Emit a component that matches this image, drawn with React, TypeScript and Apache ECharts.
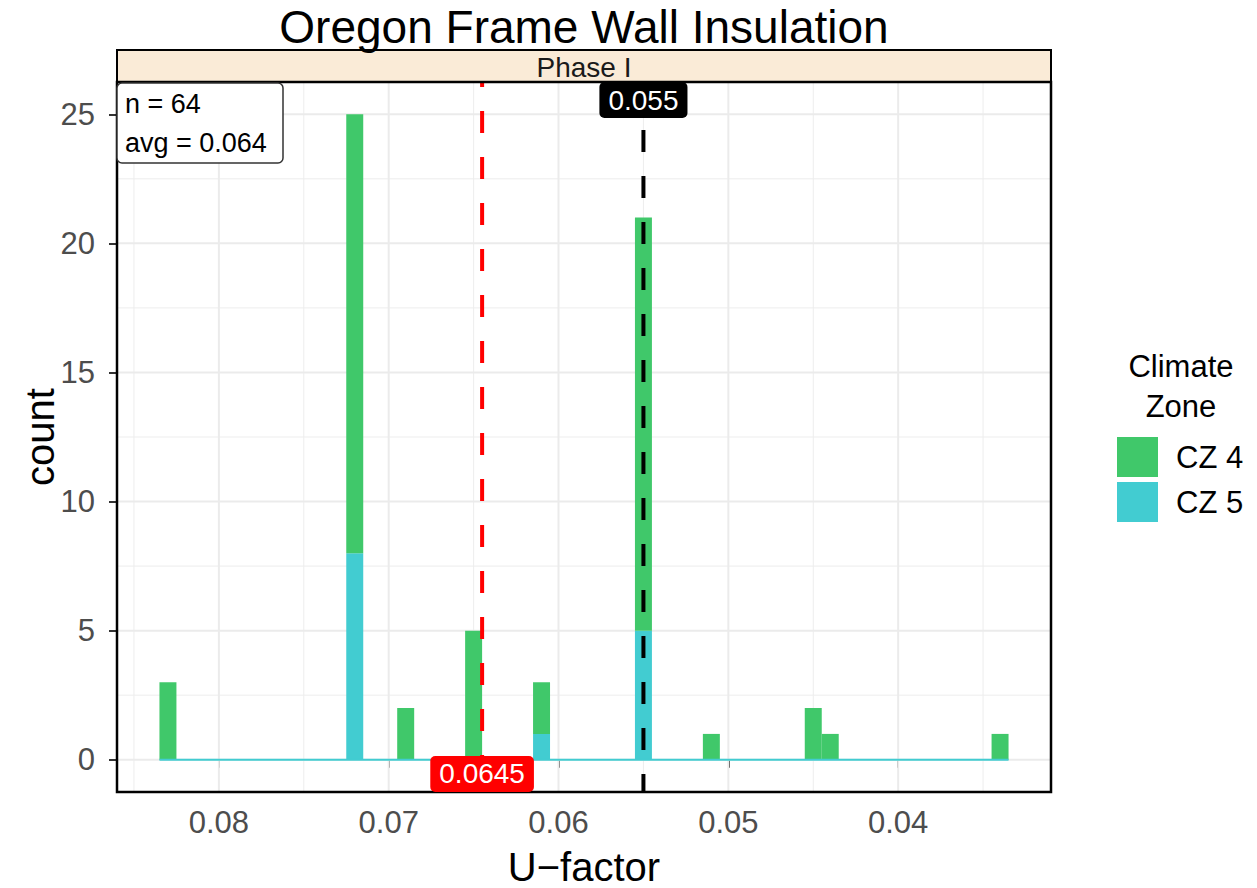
import React, { useEffect, useRef } from "react";
import * as echarts from "echarts";

// ---- data ----
const binCenters = [0.083, 0.072, 0.069, 0.065, 0.061, 0.055, 0.051, 0.045, 0.044, 0.034];
const cz4Counts = [3, 17, 2, 5, 2, 16, 1, 2, 1, 1];
const cz5Counts = [0, 8, 0, 0, 1, 5, 0, 0, 0, 0];
const binWidth = 0.001;
const zones = ["CZ 4", "CZ 5"];
const xTicks = [0.04, 0.05, 0.06, 0.07, 0.08];
const xMinor = [0.035, 0.045, 0.055, 0.065, 0.075, 0.085];
const yTicks = [0, 5, 10, 15, 20, 25];
const yMinor = [2.5, 7.5, 12.5, 17.5, 22.5];
const medianU = 0.0645;
const targetU = 0.055;
const nTotal = 64;
const avgU = 0.064;
const titleText = "Oregon Frame Wall Insulation";
const stripText = "Phase I";

// ---- styling ----
const FONT = "'Liberation Sans', Arial, Helvetica, sans-serif";
const GREEN = "#40C86A";
const TEAL = "#42CCD1";
const GRID_L = 117, GRID_T = 82, GRID_W = 934, GRID_H = 710;

const edgeMax = Math.max(...binCenters) + binWidth / 2;
const edgeMin = Math.min(...binCenters) - binWidth / 2;
const xRange = edgeMax - edgeMin;
const xMin = edgeMin - 0.05 * xRange;
const xMax = edgeMax + 0.05 * xRange;
const totals = binCenters.map((_, i) => cz4Counts[i] + cz5Counts[i]);
const yTop = Math.max(...totals);
const yMin = -0.05 * yTop;
const yMax = yTop * 1.05;

function makeRender(color: string) {
  return (params: any, api: any) => {
    const c = api.value(0);
    const lo = api.value(1);
    const hi = api.value(2);
    const a = api.coord([c - binWidth / 2, hi]);
    const b = api.coord([c + binWidth / 2, lo]);
    return {
      type: "rect",
      shape: {
        x: Math.min(a[0], b[0]),
        y: Math.min(a[1], b[1]),
        width: Math.abs(a[0] - b[0]),
        height: Math.abs(a[1] - b[1]),
      },
      style: { fill: color },
    };
  };
}

// gridline rows: [value on x, value on y, isVertical(1)/horizontal(0), width]
function gridRender(params: any, api: any) {
  const vx = api.value(0);
  const vy = api.value(1);
  const vertical = api.value(2) === 1;
  const w = api.value(3);
  const p1 = vertical ? api.coord([vx, yMin]) : api.coord([xMin, vy]);
  const p2 = vertical ? api.coord([vx, yMax]) : api.coord([xMax, vy]);
  return {
    type: "line",
    shape: { x1: p1[0], y1: p1[1], x2: p2[0], y2: p2[1] },
    style: { stroke: w > 1 ? "#EBEBEB" : "#EDEDED", lineWidth: w },
  };
}

export default function App() {
  const ref = useRef<HTMLDivElement>(null);
  useEffect(() => {
    if (!ref.current) return;
    const chart = echarts.init(ref.current, null, { renderer: "svg" });

    const cz5Data = binCenters
      .map((c, i) => [c, 0, cz5Counts[i]])
      .filter((d) => d[2] > d[1]);
    const cz4Data = binCenters
      .map((c, i) => [c, cz5Counts[i], cz5Counts[i] + cz4Counts[i]])
      .filter((d) => d[2] > d[1]);

    const gridData: number[][] = [
      ...xMinor.map((v) => [v, 0, 1, 1]),
      ...yMinor.map((v) => [xMin, v, 0, 1]),
      ...xTicks.map((v) => [v, 0, 1, 2]),
      ...yTicks.map((v) => [xMin, v, 0, 2]),
    ];

    const labelBase = {
      show: true,
      position: "inside",
      color: "#fff",
      opacity: 1,
      fontFamily: FONT,
      fontSize: 28,
      lineHeight: 28,
      padding: [4, 9, 4, 9],
      borderRadius: 5,
      formatter: (p: any) => String(p.value[0]),
    };

    chart.setOption({
      animation: false,
      backgroundColor: "#fff",
      grid: { left: GRID_L, top: GRID_T, width: GRID_W, height: GRID_H, show: false },
      xAxis: {
        type: "value",
        min: xMin,
        max: xMax,
        inverse: true,
        axisLine: { show: false },
        splitLine: { show: false },
        axisTick: {
          show: true,
          customValues: xTicks,
          length: 8,
          lineStyle: { color: "#333", width: 2 },
        },
        axisLabel: {
          customValues: xTicks,
          formatter: (v: number) => v.toFixed(2),
          color: "#4D4D4D",
          fontFamily: FONT,
          fontSize: 31,
          margin: 15,
        },
      },
      yAxis: {
        type: "value",
        min: yMin,
        max: yMax,
        axisLine: { show: false },
        splitLine: { show: false },
        axisTick: {
          show: true,
          customValues: yTicks,
          length: 8,
          lineStyle: { color: "#333", width: 2 },
        },
        axisLabel: {
          customValues: yTicks,
          color: "#4D4D4D",
          fontFamily: FONT,
          fontSize: 31,
          margin: 22,
        },
      },
      legend: {
        data: zones,
        orient: "vertical",
        left: 1117,
        top: 437,
        padding: 0,
        itemWidth: 41,
        itemHeight: 40,
        itemGap: 5,
        icon: "rect",
        selectedMode: false,
        textStyle: { fontFamily: FONT, fontSize: 31, color: "#000", padding: [0, 0, 0, 13] },
      },
      series: [
        {
          type: "custom",
          name: "grid",
          data: gridData,
          renderItem: gridRender,
          z: 1,
          silent: true,
        },
        {
          type: "custom",
          name: zones[1],
          data: cz5Data,
          encode: { x: 0, y: [1, 2] },
          itemStyle: { color: TEAL },
          renderItem: makeRender(TEAL),
          z: 2,
          silent: true,
        },
        {
          type: "custom",
          name: zones[0],
          data: cz4Data,
          encode: { x: 0, y: [1, 2] },
          itemStyle: { color: GREEN },
          renderItem: makeRender(GREEN),
          z: 2,
          silent: true,
        },
        {
          type: "line",
          name: "zero",
          data: [
            [edgeMax, 0],
            [edgeMin, 0],
          ],
          symbol: "none",
          lineStyle: { color: TEAL, width: 1.8 },
          z: 3,
          silent: true,
        },
        {
          type: "line",
          name: "median",
          data: [
            [medianU, yMax],
            [medianU, yMin],
          ],
          symbol: "none",
          lineStyle: { color: "#FF0000", width: 4, type: [22, 24], dashOffset: 17 },
          z: 4,
          silent: true,
        },
        {
          type: "line",
          name: "target",
          data: [
            [targetU, yMin],
            [targetU, yMax],
          ],
          symbol: "none",
          lineStyle: { color: "#000", width: 4, type: [22, 24], dashOffset: 4 },
          z: 4,
          silent: true,
        },
        {
          type: "scatter",
          name: "labels",
          symbol: "circle",
          symbolSize: 2,
          itemStyle: { color: "rgba(0,0,0,0)", opacity: 1 },
          z: 10,
          silent: true,
          data: [
            { value: [medianU, -0.55], label: { ...labelBase, backgroundColor: "#FF0000" } },
            { value: [targetU, 25.55], label: { ...labelBase, backgroundColor: "#000000" } },
          ],
        },
      ],
      graphic: [
        {
          type: "text",
          x: 584,
          y: 27,
          z: 20,
          style: {
            text: titleText,
            fontFamily: FONT,
            fontSize: 46,
            lineHeight: 42,
            fill: "#000",
            align: "center",
            verticalAlign: "middle",
            textAlign: "center",
            textVerticalAlign: "middle",
          },
        },
        {
          type: "rect",
          z: 5,
          shape: { x: GRID_L, y: 50, width: GRID_W, height: GRID_T - 50 },
          style: { fill: "#FAEBD7", stroke: "#000", lineWidth: 2 },
        },
        {
          type: "text",
          x: 584,
          y: 67.5,
          z: 6,
          style: {
            text: stripText,
            fontFamily: FONT,
            fontSize: 28,
            lineHeight: 22,
            fill: "#1A1A1A",
            align: "center",
            verticalAlign: "middle",
            textAlign: "center",
            textVerticalAlign: "middle",
          },
        },
        {
          type: "rect",
          z: 5,
          silent: true,
          shape: { x: GRID_L, y: GRID_T, width: GRID_W, height: GRID_H },
          style: { fill: "transparent", stroke: "#000", lineWidth: 2.5 },
        },
        {
          type: "rect",
          z: 12,
          shape: { x: 117, y: 83, width: 166, height: 80, r: 5 },
          style: { fill: "#fff", stroke: "#333", lineWidth: 1.5 },
        },
        {
          type: "text",
          x: 125,
          y: 104,
          z: 13,
          style: {
            text: "n = " + nTotal,
            fontFamily: FONT,
            fontSize: 27,
            fill: "#000",
            align: "left",
            verticalAlign: "middle",
            textAlign: "left",
            textVerticalAlign: "middle",
          },
        },
        {
          type: "text",
          x: 125,
          y: 143,
          z: 13,
          style: {
            text: "avg = " + avgU.toFixed(3),
            fontFamily: FONT,
            fontSize: 27,
            fill: "#000",
            align: "left",
            verticalAlign: "middle",
            textAlign: "left",
            textVerticalAlign: "middle",
          },
        },
        {
          type: "text",
          x: 584,
          y: 867,
          z: 20,
          style: {
            text: "U\u2212factor",
            fontFamily: FONT,
            fontSize: 40,
            fill: "#000",
            align: "center",
            verticalAlign: "middle",
            textAlign: "center",
            textVerticalAlign: "middle",
          },
        },
        {
          type: "text",
          x: 40,
          y: 437,
          rotation: Math.PI / 2,
          z: 20,
          style: {
            text: "count",
            fontFamily: FONT,
            fontSize: 40,
            fill: "#000",
            align: "center",
            verticalAlign: "middle",
            textAlign: "center",
            textVerticalAlign: "middle",
          },
        },
        {
          type: "text",
          x: 1181,
          y: 386,
          z: 20,
          style: {
            text: "Climate\nZone",
            fontFamily: FONT,
            fontSize: 31,
            lineHeight: 40,
            fill: "#000",
            align: "center",
            verticalAlign: "middle",
            textAlign: "center",
            textVerticalAlign: "middle",
          },
        },
      ],
    });
    return () => chart.dispose();
  }, []);
  return (
    <div
      ref={ref}
      style={{ position: "fixed", left: 0, top: 0, width: 1257, height: 888, background: "#fff" }}
    />
  );
}
